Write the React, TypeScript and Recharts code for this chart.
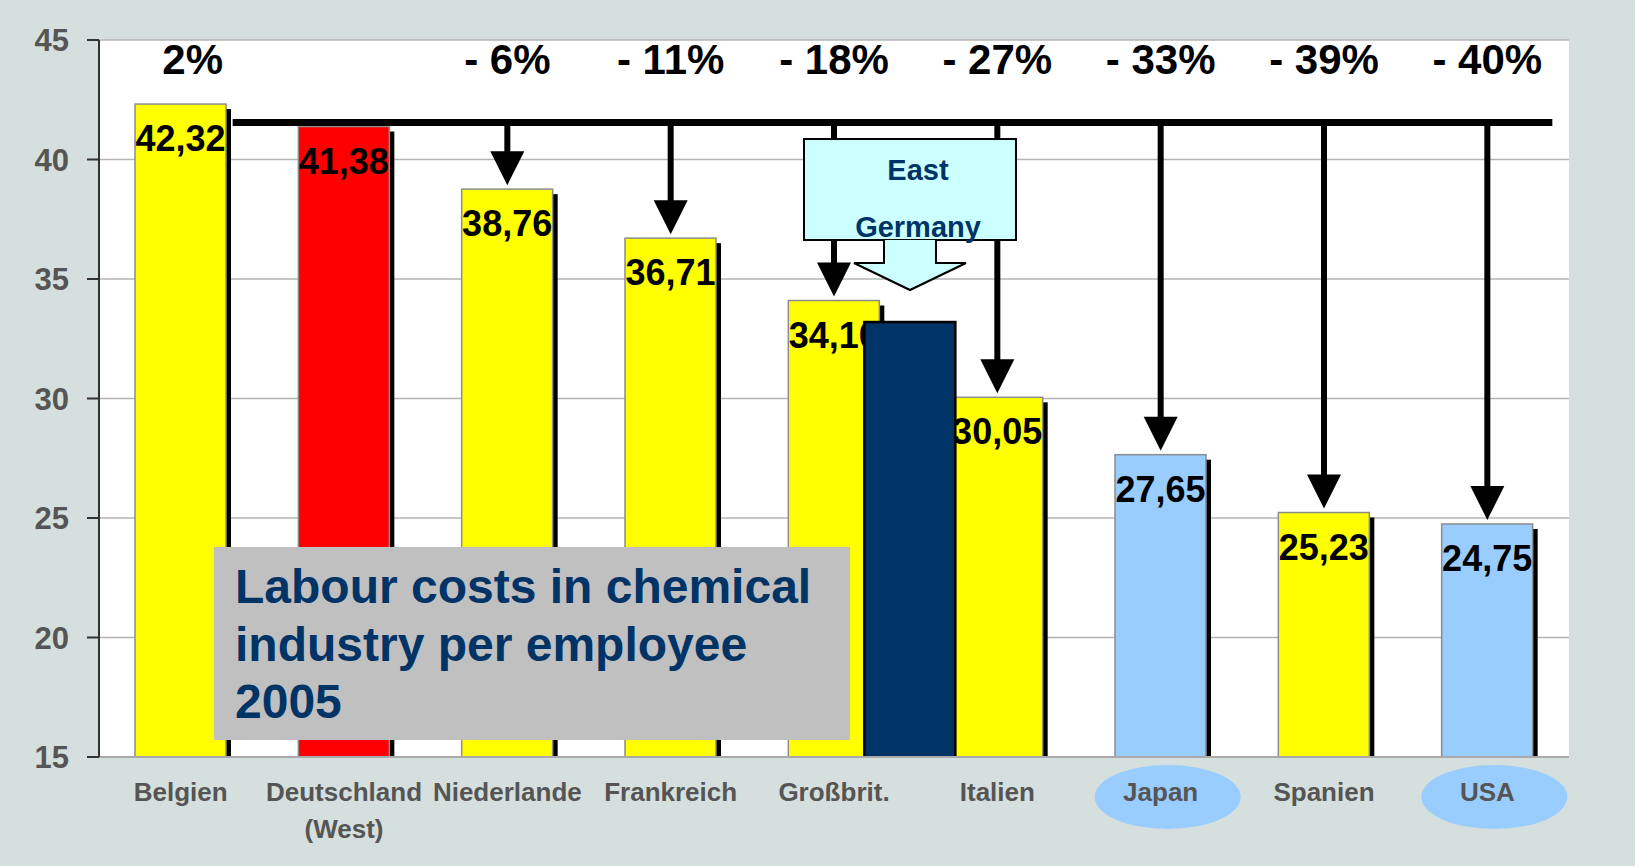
import React from "react";
import {
  ComposedChart,
  Bar,
  XAxis,
  YAxis,
  CartesianGrid,
  Cell,
  ReferenceLine,
  ReferenceDot,
} from "recharts";

const countries = [
  "Belgien",
  "Deutschland\n(West)",
  "Niederlande",
  "Frankreich",
  "Großbrit.",
  "Italien",
  "Japan",
  "Spanien",
  "USA",
];
const costs = [42.32, 41.38, 38.76, 36.71, 34.1, 30.05, 27.65, 25.23, 24.75];
const changes = ["2%", "", "- 6%", "- 11%", "- 18%", "- 27%", "- 33%", "- 39%", "- 40%"];
const barColors = ["#ffff00", "#ff0000", "#ffff00", "#ffff00", "#ffff00", "#ffff00", "#99ccff", "#ffff00", "#99ccff"];
const circled = ["Japan", "USA"];
const yTicks = [15, 20, 25, 30, 35, 40, 45];

const westLevel = 41.38;
const eastCost = 33.2;
const eastBeside = "Großbrit.";

const FONT = "'Liberation Sans', Arial, sans-serif";
const NAVY = "#003366";
const EAST_SHIFT = 76;

const data = countries.map((name, i) => ({
  name,
  cost: costs[i],
  east: name === eastBeside ? eastCost : null,
}));

const fmt = (v: number) => v.toFixed(2).replace(".", ",");

function ShadowBar(props: any) {
  const { x, y, width, height, fill, payload } = props;
  return (
    <g>
      <rect x={x + 5} y={y + 5} width={width} height={height - 2} fill="#000" />
      <rect x={x} y={y} width={width} height={height} fill={fill} stroke="#8c8c8c" strokeWidth={1.5} />
      <text
        x={x + width / 2}
        y={y + 47}
        textAnchor="middle"
        fontSize={36}
        fontWeight="bold"
        fontFamily={FONT}
        fill="#000"
      >
        {fmt(payload.cost)}
      </text>
    </g>
  );
}

function EastBar(props: any) {
  const { x, y, width, height } = props;
  if (!height) return null;
  return (
    <rect x={x + EAST_SHIFT} y={y} width={width} height={height + 2} fill={NAVY} stroke="#000" strokeWidth={2.5} />
  );
}

function CountryTick(props: any) {
  const { x, y, payload } = props;
  const lines = String(payload.value).split("\n");
  return (
    <g>
      {circled.includes(payload.value) && (
        <ellipse cx={x + 7} cy={y + 40} rx={73} ry={32} fill="#99ccff" />
      )}
      {lines.map((l, i) => (
        <text
          key={i}
          x={x}
          y={y + 44 + i * 37}
          textAnchor="middle"
          fontSize={26}
          fontWeight="bold"
          fontFamily={FONT}
          fill="#555"
        >
          {l}
        </text>
      ))}
    </g>
  );
}

function ChangeTick(props: any) {
  const { x, index } = props;
  return (
    <text x={x + (index === 0 ? 12 : 0)} y={74} textAnchor="middle" fontSize={42} fontWeight="bold" fontFamily={FONT} fill="#000">
      {changes[index]}
    </text>
  );
}

function LevelLine(props: any) {
  const { x1, y1, x2 } = props;
  return <line x1={x1 + 52} x2={x2 + 65} y1={y1 - 4} y2={y1 - 4} stroke="#000" strokeWidth={7} />;
}

function DownArrow(props: any) {
  const { x1, y1, y2 } = props;
  const tip = y2 - 4;
  const head = 34;
  return (
    <g>
      <line x1={x1} x2={x1} y1={y1 - 4} y2={tip - head + 2} stroke="#000" strokeWidth={6} />
      <polygon points={`${x1 - 17},${tip - head} ${x1 + 17},${tip - head} ${x1},${tip}`} fill="#000" />
    </g>
  );
}

function EastCallout(props: any) {
  const { cx, cy } = props;
  const c = cx + EAST_SHIFT;
  const boxTop = cy - 183;
  const boxBottom = cy - 82;
  const neck = cy - 59;
  const path = `M${c - 26},${boxBottom} L${c - 26},${neck} L${c - 56},${neck} L${c},${cy - 32} L${c + 56},${neck} L${c + 26},${neck} L${c + 26},${boxBottom}`;
  return (
    <g>
      <rect x={c - 106} y={boxTop} width={212} height={boxBottom - boxTop} fill="#ccffff" stroke="#000" strokeWidth={2} />
      <path d={path} fill="#ccffff" stroke="#000" strokeWidth={2} />
      <text x={c + 8} y={cy - 142} textAnchor="middle" fontSize={29} fontWeight="bold" fontFamily={FONT} fill={NAVY}>
        East
      </text>
      <text x={c + 8} y={cy - 85} textAnchor="middle" fontSize={29} fontWeight="bold" fontFamily={FONT} fill={NAVY}>
        Germany
      </text>
    </g>
  );
}

export default function App() {
  return (
    <div style={{ position: "absolute", left: 0, top: 0, width: 1635, height: 866, background: "#d5dfdd" }}>
      <ComposedChart
        width={1635}
        height={866}
        data={data}
        margin={{ top: 39, right: 66, bottom: 0, left: 9 }}
      >
        <CartesianGrid vertical={false} stroke="#b4b4b4" strokeWidth={1.5} fill="#ffffff" />
        <XAxis
          dataKey="name"
          interval={0}
          tickLine={false}
          tickSize={0}
          tickMargin={0}
          height={109}
          axisLine={{ stroke: "#aaaaaa", strokeWidth: 2 }}
          tick={<CountryTick />}
        />
        <XAxis
          xAxisId="pct"
          dataKey="name"
          orientation="top"
          interval={0}
          height={1}
          tickLine={false}
          tickSize={0}
          tickMargin={0}
          axisLine={false}
          tick={<ChangeTick />}
        />
        <XAxis xAxisId="east" dataKey="name" hide />
        <YAxis
          domain={[15, 45]}
          ticks={yTicks}
          allowDataOverflow
          width={90}
          tickSize={12}
          tickMargin={18}
          axisLine={{ stroke: "#333", strokeWidth: 2 }}
          tickLine={{ stroke: "#333", strokeWidth: 2 }}
          tick={{ fill: "#555", fontSize: 31, fontWeight: "bold", fontFamily: FONT }}
        />
        <Bar dataKey="cost" barSize={91} shape={<ShadowBar />} isAnimationActive={false}>
          {data.map((d, i) => (
            <Cell key={d.name} fill={barColors[i]} />
          ))}
        </Bar>
        <Bar dataKey="east" xAxisId="east" barSize={91} shape={<EastBar />} isAnimationActive={false} />
        <ReferenceLine
          segment={[
            { x: countries[0], y: westLevel },
            { x: countries[countries.length - 1], y: westLevel },
          ]}
          shape={<LevelLine />}
        />
        {countries.map((c, i) =>
          changes[i].startsWith("-") ? (
            <ReferenceLine
              key={c}
              segment={[
                { x: c, y: westLevel },
                { x: c, y: costs[i] },
              ]}
              shape={<DownArrow />}
            />
          ) : null
        )}
        <ReferenceDot x={eastBeside} y={eastCost} shape={<EastCallout />} />
      </ComposedChart>
      <div
        style={{
          position: "absolute",
          left: 214,
          top: 547,
          width: 636,
          height: 193,
          boxSizing: "border-box",
          background: "#c0c0c0",
          color: NAVY,
          fontFamily: FONT,
          fontWeight: "bold",
          fontSize: 48,
          lineHeight: "57.5px",
          paddingLeft: 21,
          paddingTop: 11,
        }}
      >
        Labour costs in chemical
        <br />
        industry per employee
        <br />
        2005
      </div>
    </div>
  );
}
